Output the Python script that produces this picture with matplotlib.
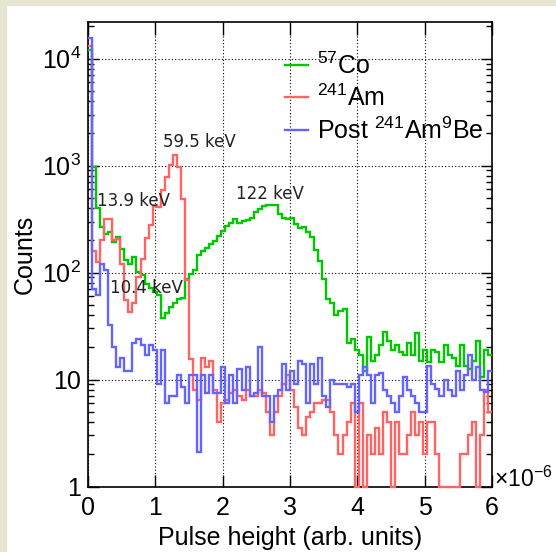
import numpy as np
import matplotlib
matplotlib.use("Agg")
import matplotlib.pyplot as plt
from matplotlib.patches import Rectangle
from matplotlib.ticker import FixedLocator, FixedFormatter, NullFormatter

# histogram binning (pulse height, units of 1e-6)
n_bins = 100
x_min, x_max = 0.0, 6.0

co57 = [12000, 980, 400, 268, 227, 237, 194, 216, 167, 130,
        121, 140, 101, 94, 79, 72, 66, 62, 38, 42,
        48, 52, 56, 58, 88, 97, 105, 145, 158, 170,
        183, 197, 219, 244, 272, 293, 315, 293, 304, 308,
        327, 365, 392, 421, 427, 427, 427, 351, 327, 315,
        322, 283, 263, 267, 241, 214, 164, 127, 88, 57,
        52, 40, 44, 46, 22, 24, 19, 17, 12, 25,
        15, 17, 21, 28, 23, 19, 21, 18, 17, 22,
        17, 27, 15, 19, 14.5, 19, 18, 14.5, 21, 17,
        16, 13.5, 21, 13.5, 12.6, 15, 23, 10.5, 19, 17]

am241 = [13200, 160, 125, 200, 320, 320, 200, 205, 120, 55,
         43, 52, 90, 135, 210, 280, 420, 410, 590, 790,
         1010, 1260, 980, 490, 85, 15.5, 8, 6.5, 16, 13,
         15, 8, 4, 6, 6.5, 7.5, 8, 7, 6.5, 8,
         7, 7, 8, 7.5, 5, 3, 5, 7, 9, 11,
         8, 5.5, 3.5, 3, 4.5, 5, 6, 6, 6.5, 6.5,
         5, 3, 2, 3, 4, 6, 1, 6, 1, 3,
         2, 3.5, 2, 5, 4, 1, 4, 2, 2, 3,
         5, 3, 4, 2, 4, 4, 2, 1, 1, 1,
         1, 1, 2, 2, 3, 4, 1, 3, 8, 5]

ambe = [15500, 70, 62, 120, 105, 32, 20, 13, 16, 12,
        12, 22, 24, 21, 17, 21, 19, 9, 19, 6,
        7, 7, 11, 8.5, 6, 11, 11, 2.1, 11, 7.5,
        11, 7.5, 7.5, 13, 6, 11, 6, 12.5, 8, 13,
        7, 7.5, 20, 7, 7, 4, 7, 8, 14, 8,
        12, 9, 15, 14, 6, 14, 9, 16, 7, 5.5,
        10, 9, 9, 9, 8.5, 9, 5, 11, 13, 11,
        6, 11, 11.5, 8, 7, 6, 5, 7, 10.5, 8,
        7, 6, 5, 5, 13.5, 9, 8.2, 7, 10, 8,
        7, 12, 8, 11, 16.8, 10, 13, 8, 7.6, 12]

labels = [r"$^{57}$Co", r"$^{241}$Am", r"Post $^{241}$Am$^{9}$Be"]
colors = ["#00c800", "#ff6464", "#6464ff"]

# peak annotations: text, x, y (data coords)
peak_text = ["13.9 keV", "59.5 keV", "122 keV", "10.4 keV"]
peak_x = [0.13, 1.12, 2.20, 0.32]
peak_y = [470, 1650, 540, 72]

y_ticks = [1, 10, 100, 1000, 10000]
y_ticklabels = ["1", "10", r"$10^{2}$", r"$10^{3}$", r"$10^{4}$"]

plt.rcParams["font.family"] = ["Liberation Sans", "DejaVu Sans"]
plt.rcParams["mathtext.fontset"] = "custom"
plt.rcParams["mathtext.rm"] = "Liberation Sans"
plt.rcParams["mathtext.it"] = "Liberation Sans:italic"
plt.rcParams["mathtext.bf"] = "Liberation Sans:bold"


def main():
    edges = np.linspace(x_min, x_max, n_bins + 1)

    fig = plt.figure(figsize=(5.56, 5.52), dpi=100, facecolor="white")
    # beige frame on the left and top
    fig.patches.append(Rectangle((0, 0), 6 / 556, 1, transform=fig.transFigure,
                                 color="#e6e6d2", zorder=0))
    fig.patches.append(Rectangle((0, 1 - 5 / 552), 1, 5 / 552, transform=fig.transFigure,
                                 color="#e6e6d2", zorder=0))

    ax = fig.add_axes([88 / 556, 1 - 486.5 / 552, 404 / 556, 464.5 / 552])

    for vals, lab, col in zip([co57, am241, ambe], labels, colors):
        ax.stairs(vals, edges, baseline=None, color=col, lw=1.7, label=lab,
                  clip_on=False, zorder=3)

    ax.set_yscale("log")
    ax.set_xlim(x_min, x_max)
    ax.set_ylim(1, 2.2e4)

    ax.xaxis.set_major_locator(FixedLocator(range(7)))
    ax.yaxis.set_major_locator(FixedLocator(y_ticks))
    ax.yaxis.set_major_formatter(FixedFormatter(y_ticklabels))
    minor = [m * 10 ** e for e in range(0, 5) for m in range(2, 10)]
    ax.yaxis.set_minor_locator(FixedLocator(minor))
    ax.yaxis.set_minor_formatter(NullFormatter())

    ax.tick_params(axis="both", which="both", direction="in", top=True, right=True,
                   labelsize=18, width=1)
    ax.tick_params(axis="x", which="major", length=9, pad=7)
    ax.tick_params(axis="y", which="major", length=8, pad=5)
    ax.tick_params(axis="y", which="minor", length=4)

    ax.grid(True, which="major", color="black", lw=0.8, linestyle=(0, (1, 2)))
    ax.set_axisbelow(True)
    for s in ax.spines.values():
        s.set_linewidth(1.2)

    ax.set_xlabel("Pulse height (arb. units)", fontsize=18)
    ax.xaxis.set_label_coords(0.5, -0.086)
    ax.set_ylabel("Counts", fontsize=18)
    ax.yaxis.set_label_coords(-0.127, 0.5)

    ax.text(1.005, 0.0, "×10$^{-6}$", transform=ax.transAxes, fontsize=16.5,
            ha="left", va="baseline")

    for t, px, py in zip(peak_text, peak_x, peak_y):
        ax.text(px, py, t, fontsize=12, color="#222222", ha="left", va="center",
                family=["DejaVu Sans Condensed", "DejaVu Sans"], zorder=4)

    ax.legend(loc="upper left", bbox_to_anchor=(0.487, 0.935), frameon=False,
              fontsize=18, handlelength=0.95, handletextpad=0.35,
              labelspacing=0.25, borderpad=0, borderaxespad=0)

    fig.savefig("out.png", dpi=100)


main()
